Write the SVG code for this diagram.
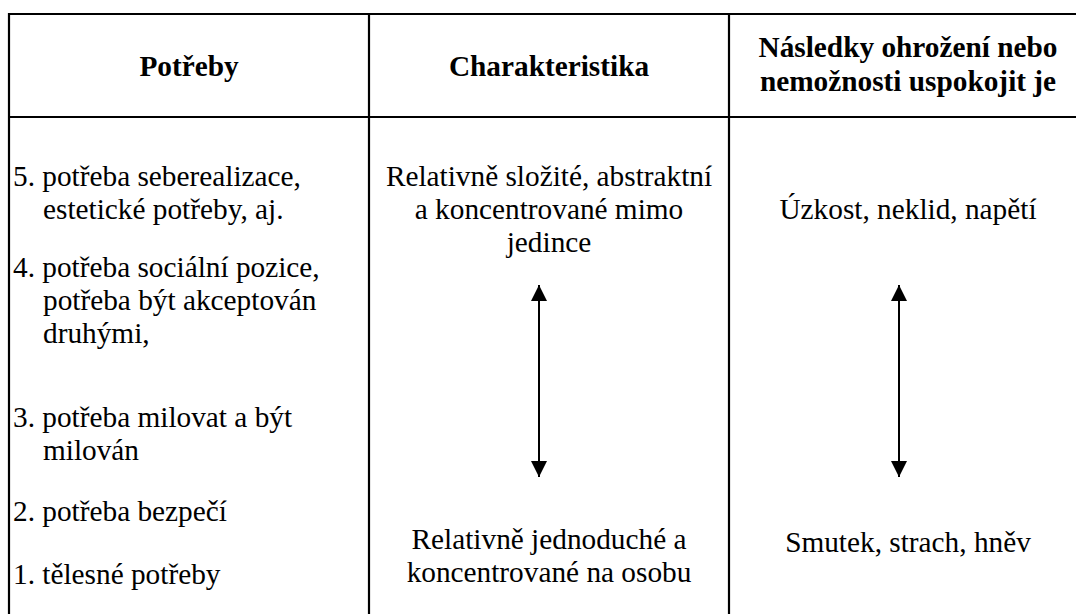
<svg xmlns="http://www.w3.org/2000/svg" width="1076" height="614" viewBox="0 0 1076 614">
<defs>
<style>
.grid{stroke:#000;stroke-width:2.2;fill:none}
text{font-family:'Liberation Serif','Times New Roman',Times,serif;font-size:29.3px;fill:#000}
.h{font-weight:bold;text-anchor:middle}
.c{text-anchor:middle}
.arr{stroke:#000;stroke-width:2}
</style>
<marker id="ah" viewBox="0 0 16 16" refX="16" refY="8" markerWidth="16" markerHeight="16" markerUnits="userSpaceOnUse" orient="auto">
<path d="M0,0 L16,8 L0,16 Z" fill="#000"/>
</marker>
</defs>
<rect width="1076" height="614" fill="#fff"/>
<g id="table">
<line class="grid" x1="8" y1="14" x2="1076" y2="14"/>
<line class="grid" x1="8" y1="117" x2="1076" y2="117"/>
<line class="grid" x1="9" y1="13" x2="9" y2="614"/>
<line class="grid" x1="369" y1="13" x2="369" y2="614"/>
<line class="grid" x1="729" y1="13" x2="729" y2="614"/>
</g>
<g id="header">
<text class="h" x="189" y="76">Potřeby</text>
<text class="h" x="549" y="76">Charakteristika</text>
<text class="h" x="908" y="57">Následky ohrožení nebo</text>
<text class="h" x="908" y="91">nemožnosti uspokojit je</text>
</g>
<g id="needs">
<text x="13" y="186">5. potřeba seberealizace,</text>
<text x="43" y="219">estetické potřeby, aj.</text>
<text x="13" y="277">4. potřeba sociální pozice,</text>
<text x="43" y="310">potřeba být akceptován</text>
<text x="43" y="343">druhými,</text>
<text x="13" y="427">3. potřeba milovat a být</text>
<text x="43" y="460">milován</text>
<text x="13" y="521">2. potřeba bezpečí</text>
<text x="13" y="584">1. tělesné potřeby</text>
</g>
<g id="characteristics">
<text class="c" x="549" y="186">Relativně složité, abstraktní</text>
<text class="c" x="549" y="219">a koncentrované mimo</text>
<text class="c" x="549" y="252">jedince</text>
<text class="c" x="549" y="549">Relativně jednoduché a</text>
<text class="c" x="549" y="582">koncentrované na osobu</text>
</g>
<g id="consequences">
<text class="c" x="908" y="219">Úzkost, neklid, napětí</text>
<text class="c" x="908" y="552">Smutek, strach, hněv</text>
</g>
<g id="connectors">
<line class="arr" x1="539" y1="381" x2="539" y2="285" marker-end="url(#ah)"/>
<line class="arr" x1="539" y1="381" x2="539" y2="477" marker-end="url(#ah)"/>
<line class="arr" x1="899" y1="381" x2="899" y2="285" marker-end="url(#ah)"/>
<line class="arr" x1="899" y1="381" x2="899" y2="477" marker-end="url(#ah)"/>
</g>
</svg>
